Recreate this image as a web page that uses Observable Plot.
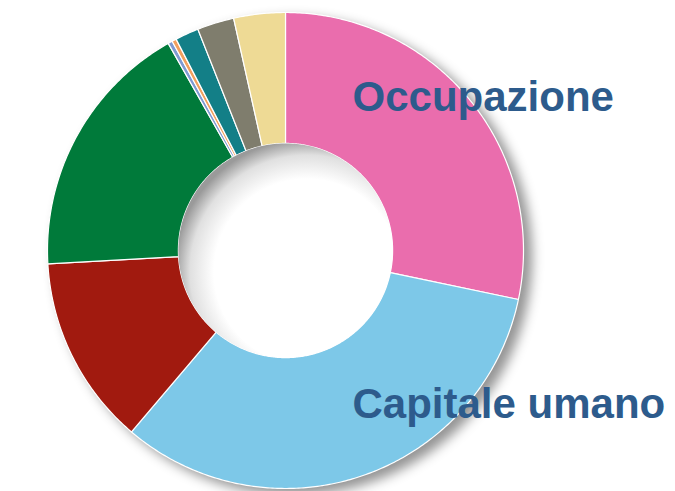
<!DOCTYPE html>
<html><head><meta charset="utf-8">
<script src="https://cdn.jsdelivr.net/npm/d3@7"></script>
<script src="https://cdn.jsdelivr.net/npm/@observablehq/plot@0.6"></script>
<style>
html,body{margin:0;padding:0;background:#fff;}
#chart{width:675px;height:491px;overflow:hidden;}
</style>
</head><body><div id="chart"></div>
<script>
const categories = ["Occupazione","Capitale umano","Categoria 3","Categoria 4","Categoria 5","Categoria 6","Categoria 7","Categoria 8","Categoria 9"];
const values = [28.3, 32.9, 12.9, 17.7, 0.3, 0.3, 1.6, 2.5, 3.5];
const colors = ["#EA6DAD","#7DC8E8","#A11A0F","#007A3A","#7E9AD2","#F2A05E","#137F87","#7F7D6D","#EEDA95"];
const labels = ["Occupazione","Capitale umano"];

const innerR = 0.45, outerR = 1;
const pie = d3.pie().sort(null).value(d => d.value)(categories.map((c,i)=>({category:c, value:values[i]})));
const pts = [];
for (const s of pie) {
  const n = Math.max(2, Math.ceil((s.endAngle - s.startAngle) / 0.01));
  const ring = [];
  for (let k = 0; k <= n; k++) { const a = s.startAngle + (s.endAngle - s.startAngle) * k / n; ring.push([outerR*Math.sin(a), outerR*Math.cos(a)]); }
  for (let k = n; k >= 0; k--) { const a = s.startAngle + (s.endAngle - s.startAngle) * k / n; ring.push([innerR*Math.sin(a), innerR*Math.cos(a)]); }
  ring.push(ring[0]);
  for (const [x,y] of ring) pts.push({category: s.data.category, x, y});
}
const hole = d3.range(0, 361, 2).map(t => ({x: innerR*Math.sin(t*Math.PI/180), y: innerR*Math.cos(t*Math.PI/180)}));

const textStyle = {textAnchor: "start", lineAnchor: "bottom", fill: "#2D5B8C", fontSize: 42, fontWeight: "bold", fontFamily: "Liberation Sans, Arial, sans-serif"};
const plot = Plot.plot({
  width: 675, height: 491,
  margin: 0,
  x: {domain: [-1, 1], range: [47, 523], axis: null},
  y: {domain: [-1, 1], range: [488, 12], axis: null},
  color: {domain: categories, range: colors},
  marks: [
    Plot.line(pts, {x: "x", y: "y", z: "category", fill: "category", stroke: "white", strokeWidth: 1.2, curve: "linear"}),
    Plot.line(hole, {x: "x", y: "y", fill: "url(#holeGrad)", stroke: "none"}),
    Plot.text([labels[0]], {frameAnchor: "top-left", dx: 352, dy: 110, text: d => d, ...textStyle}),
    Plot.text([labels[1]], {frameAnchor: "top-left", dx: 352, dy: 417, text: d => d, ...textStyle})
  ]
});
const svg = d3.select(plot);
const defs = svg.insert("defs", ":first-child");
const g = defs.append("radialGradient").attr("id","holeGrad").attr("cx","0.6").attr("cy","0.6").attr("r","0.62").attr("fx","0.6").attr("fy","0.6");
g.append("stop").attr("offset","0").attr("stop-color","#ffffff");
g.append("stop").attr("offset","0.7").attr("stop-color","#ffffff");
g.append("stop").attr("offset","0.88").attr("stop-color","#e0e0e0");
g.append("stop").attr("offset","1").attr("stop-color","#9a9a9a");
svg.select("g[aria-label=line]").style("filter","drop-shadow(8px 6px 6px rgba(0,0,0,0.42))");
document.getElementById("chart").appendChild(plot);
</script>
</body></html>
